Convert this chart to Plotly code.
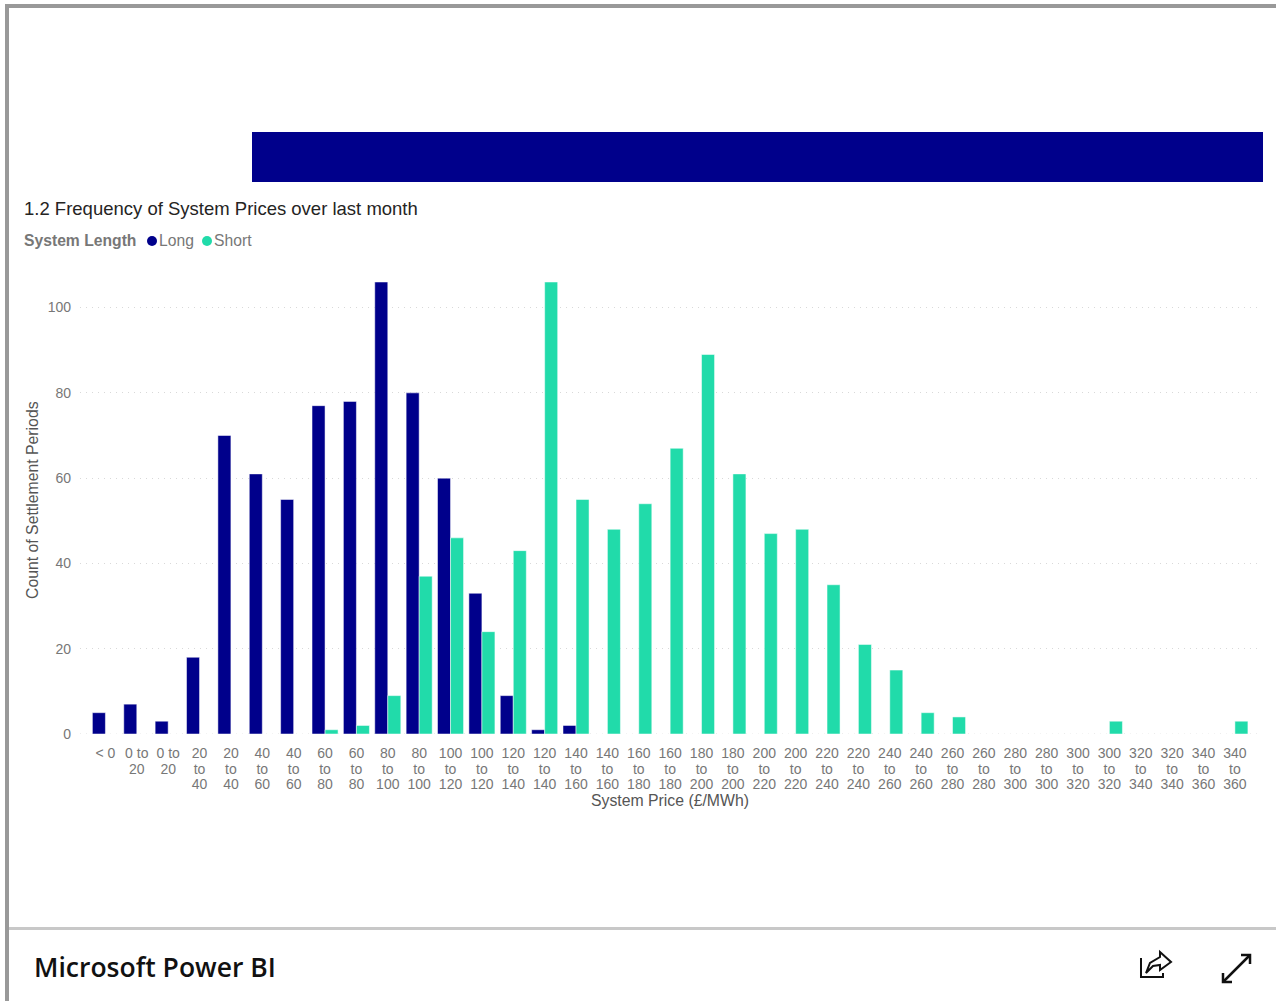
import plotly.graph_objects as go

W, H = 1276, 1001
# plot area in page pixels
LEFT, RIGHT, TOP, BOTTOM = 80, 1260, 282, 734

price_bands = ["< 0", "0 to 20", "0 to 20", "20 to 40", "20 to 40", "40 to 60", "40 to 60",
               "60 to 80", "60 to 80", "80 to 100", "80 to 100", "100 to 120", "100 to 120",
               "120 to 140", "120 to 140", "140 to 160", "140 to 160", "160 to 180", "160 to 180",
               "180 to 200", "180 to 200", "200 to 220", "200 to 220", "220 to 240", "220 to 240",
               "240 to 260", "240 to 260", "260 to 280", "260 to 280", "280 to 300", "280 to 300",
               "300 to 320", "300 to 320", "320 to 340", "320 to 340", "340 to 360", "340 to 360"]
long_counts = [5, 7, 3, 18, 70, 61, 55, 77, 78, 106, 80, 60, 33, 9, 1, 2,
               0, 0, 0, 0, 0, 0, 0, 0, 0, 0, 0, 0, 0, 0, 0, 0, 0, 0, 0, 0, 0]
short_counts = [0, 0, 0, 0, 0, 0, 0, 1, 2, 9, 37, 46, 24, 43, 106, 55, 48, 54, 67, 89, 61, 47, 48,
                35, 21, 15, 5, 4, 0, 0, 0, 0, 3, 0, 0, 0, 3]
y_ticks = [0, 20, 40, 60, 80, 100]

NAVY = "#00008B"
TEAL = "#21DBAA"
GREY = "#777777"
FONT = "Liberation Sans"
GRID = "#D9D9D9"
GRID_DASH = "1px,5px"


def wrap_label(label):
    # same wrapping the source has: short ones keep "0 to" on one line
    parts = label.split(" ")
    if len(parts) == 2:
        lines = [label]
    elif len(parts[0]) == 1 and parts[0] != "<":
        lines = [parts[0] + " " + parts[1], parts[2]]
    else:
        lines = parts
    # outer font 12 sets the tight line spacing, span sets the glyph size
    return "<br>".join('<span style="font-size:14px">%s</span>' % s for s in lines)


# paper coordinates are relative to the plot area, not the page
def px(x):
    return (x - LEFT) / (RIGHT - LEFT)


def py(y):
    return (BOTTOM - y) / (BOTTOM - TOP)


def rect(x0, y0, x1, y1, color):
    return dict(type="rect", xref="paper", yref="paper", x0=px(x0), x1=px(x1), y0=py(y0), y1=py(y1),
                fillcolor=color, line_width=0, layer="above")


def icon(points, closed=False, width=2):
    path = "M" + " L".join("%.5f,%.5f" % (px(x), py(y)) for x, y in points) + (" Z" if closed else "")
    return dict(type="path", xref="paper", yref="paper", path=path,
                line=dict(color="#111111", width=width), layer="above")


def text(x, y, s, size, color=GREY, anchor="left", angle=0, family=FONT, weight=None):
    return dict(xref="paper", yref="paper", x=px(x), y=py(y), text=s, showarrow=False, xanchor=anchor,
                yanchor="middle", textangle=angle, borderpad=0, borderwidth=0,
                font=dict(family=family, size=size, color=color, weight=weight))


xs = list(range(len(price_bands)))

fig = go.Figure()
fig.add_trace(go.Bar(x=xs, y=long_counts, name="Long", marker_color=NAVY))
fig.add_trace(go.Bar(x=xs, y=short_counts, name="Short", marker_color=TEAL))

shapes = [
    rect(5, 4, W, 8, "#999999"),
    rect(5, 4, 9, H, "#999999"),
    rect(9, 927, W, 930, "#C8C8C8"),
    rect(252, 132, 1263, 182, NAVY),
    # plotly drops the grid line at the axis end, so the one at zero goes here
    dict(type="line", xref="paper", yref="y", x0=0, x1=1, y0=0, y1=0, layer="below",
         line=dict(color=GRID, width=1, dash=GRID_DASH)),
    dict(type="circle", xref="paper", yref="paper", x0=px(147), x1=px(157), y0=py(246), y1=py(236),
         fillcolor=NAVY, line_width=0),
    dict(type="circle", xref="paper", yref="paper", x0=px(202), x1=px(212), y0=py(246), y1=py(236),
         fillcolor=TEAL, line_width=0),
    # share icon
    icon([(1141, 958), (1141, 977), (1163, 977), (1163, 973)]),
    icon([(1146, 973), (1150, 963), (1160, 957), (1160, 952), (1171, 962), (1160, 970),
          (1160, 965), (1153, 966)], closed=True),
    # expand icon
    icon([(1223, 982), (1250, 955)], width=2.5),
    icon([(1223, 973), (1223, 982), (1232, 982)], width=2.5),
    icon([(1241, 955), (1250, 955), (1250, 964)], width=2.5),
]

annotations = [
    text(24, 209, "1.2 Frequency of System Prices over last month", 18.5, "#252423"),
    text(24, 240, "<b>System Length</b>", 15.7),
    text(159, 240, "Long", 15.7),
    text(214, 240, "Short", 15.7),
    text(32, 500, "Count of Settlement Periods", 15.8, "#555555", anchor="center", angle=-90),
    text(670, 800, "System Price (£/MWh)", 15.8, "#555555", anchor="center"),
    text(34, 967, "Microsoft Power BI", 26.5, "#111111", family="Open Sans", weight=600),
]

fig.update_layout(
    width=W,
    height=H,
    margin=dict(l=LEFT, r=W - RIGHT, t=TOP, b=H - BOTTOM, autoexpand=False),
    template="plotly_white",
    plot_bgcolor="white",
    paper_bgcolor="white",
    barmode="group",
    bargap=0.17,
    bargroupgap=0,
    showlegend=False,
    shapes=shapes,
    annotations=annotations,
    xaxis=dict(
        range=[-0.81, 36.8],
        tickvals=xs,
        ticktext=[wrap_label(b) for b in price_bands],
        tickangle=0,
        tickfont=dict(family=FONT, size=12, color=GREY),
        showgrid=False,
        showline=False,
        zeroline=False,
        ticks="",
        ticklabelstandoff=11,
    ),
    yaxis=dict(
        range=[0, 106],
        tickvals=y_ticks,
        tickfont=dict(family=FONT, size=14, color=GREY),
        showgrid=True,
        gridcolor=GRID,
        griddash=GRID_DASH,
        gridwidth=1,
        zeroline=False,
        showline=False,
        ticks="",
        ticklabelstandoff=8,
    ),
)

fig.write_html("out.html", config=dict(displayModeBar=False),
               post_script="document.body.style.margin='0';document.body.style.overflow='hidden';")
